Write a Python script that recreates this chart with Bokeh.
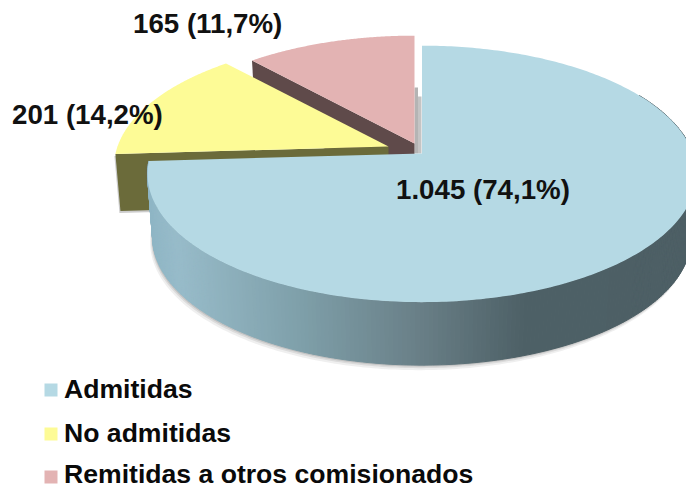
import numpy as np
from bokeh.plotting import figure
from bokeh.models import Range1d
from bokeh.core.properties import value
from bokeh.embed import file_html
from bokeh.resources import INLINE

categories = ["Admitidas", "No admitidas", "Remitidas a otros comisionados"]
counts = [1045, 201, 165]
labels = ["1.045 (74,1%)", "201 (14,2%)", "165 (11,7%)"]
top_colors = ["#b5d9e4", "#fdfb96", "#e3b3b3"]
wall_colors = ["#7d9aa5", "#6b6b3a", "#5f4a4a"]

# layout of the projected disc (page pixels)
RX, RY, K = 271, 125, 0.159
DEPTH_RX = 266
apex = [(421.5, 153), (388, 146), (414, 143)]
depth = [63, 57, 52]
TEXT_SHIFT = 10
label_pos = [(395.5, 199), (11.5, 124), (132.5, 33)]
legend_y = [389.5, 433.5, 476.5]
legend_base = [398, 442, 483]

frac = np.array(counts) / sum(counts)
edges = np.concatenate([[0], np.cumsum(frac)]) * 2 * np.pi


def proj(theta, cx, cy, rx=RX):
    x, y = np.sin(theta), np.cos(theta)
    w = 1 + K * y
    return cx + rx * x / w, cy - RY * y / w


p = figure(width=686, height=488, x_range=Range1d(0, 686), y_range=Range1d(488, 0),
           output_backend="svg", toolbar_location=None, min_border=0,
           background_fill_color="white", border_fill_color="white")
p.axis.visible = False
p.grid.visible = False
p.outline_line_color = None


def sector(i, n=120):
    t = np.linspace(edges[i], edges[i + 1], n)
    x, y = proj(t, *apex[i])
    return np.r_[apex[i][0], x], np.r_[apex[i][1], y]


def radial_wall(i, theta):
    cx, cy = apex[i]
    d = depth[i]
    x0, y0 = proj(theta, cx, cy)
    x1, y1 = proj(theta, cx, cy + d, DEPTH_RX)
    return [cx, x0, x1, cx], [cy, y0, y1, cy + d]


# grey back face seen through the gap between pink and blue
bx, by = apex[0]
p.quad(left=bx - 7.5, right=bx - 4, top=by - 66, bottom=by, fill_color="#b4b4b4", line_color=None)
p.quad(left=bx - 4, right=bx - 0.5, top=by - 57, bottom=by, fill_color="#c4c4c4", line_color=None)

# pink slice
xs, ys = radial_wall(2, edges[2])
p.patch(xs, ys, fill_color=wall_colors[2], line_color=None)
xs, ys = sector(2)
p.patch(xs, ys, fill_color=top_colors[2], line_color=None)

# yellow slice
xs, ys = radial_wall(1, edges[1])
p.patch(np.array(xs) - 1, np.array(ys) + 2, fill_color="#999999", fill_alpha=0.5, line_color=None)
xs, ys = radial_wall(1, edges[1])
p.patch(xs, ys, fill_color=wall_colors[1], line_color=None)
xs, ys = sector(1)
p.patch(xs, ys, fill_color=top_colors[1], line_color=None)

# blue slice: soft shadow, gradient rim, top
cx, cy = apex[0]
t = np.linspace(np.radians(60), edges[1], 260)
for off, alpha in [(5, 0.10), (3, 0.14), (1.5, 0.2)]:
    x1, y1 = proj(t, cx, cy + depth[0] + off, DEPTH_RX)
    x0, y0 = proj(t, cx, cy)
    p.patch(np.r_[x0 - off / 2, x1[::-1] - off / 2], np.r_[y0, y1[::-1]],
            fill_color="#666666", fill_alpha=alpha, line_color=None)

stops_x = [150, 180, 300, 420, 520, 690]
stops_rgb = np.array([[143, 182, 197], [152, 188, 202], [127, 160, 170],
                      [105, 127, 135], [78, 97, 103], [77, 95, 101]])
for a, b in zip(t[:-1], t[1:]):
    x0a, y0a = proj(a, cx, cy)
    x0b, y0b = proj(b, cx, cy)
    x1a, y1a = proj(a, cx, cy + depth[0], DEPTH_RX)
    x1b, y1b = proj(b, cx, cy + depth[0], DEPTH_RX)
    mid = (x1a + x1b) / 2
    col = [int(np.interp(mid, stops_x, stops_rgb[:, c])) for c in range(3)]
    hexcol = "#%02x%02x%02x" % tuple(col)
    p.patch([x0a, x0b, x1b, x1a], [y0a, y0b, y1b, y1a],
            fill_color=hexcol, line_color=hexcol, line_width=1)
xs, ys = sector(0, 300)
p.patch(xs, ys, fill_color=top_colors[0], line_color=None)

# value labels
for lab, (lx, ly) in zip(labels, label_pos):
    p.text([lx], [ly - TEXT_SHIFT], text=[lab], text_font=value("Liberation Sans"), text_font_style="bold",
           text_font_size="27.7px", text_color="#111111", text_align="left", text_baseline="alphabetic")

# legend
for cat, col, ym, yb in zip(categories, top_colors, legend_y, legend_base):
    p.scatter([50.5], [ym], marker="square", size=13, fill_color=col, line_color=None)
    p.text([63.5], [yb - TEXT_SHIFT], text=[cat], text_font=value("Liberation Sans"), text_font_style="bold",
           text_font_size="26.6px", text_color="#0a0a0a", text_align="left", text_baseline="alphabetic")

open("out.html", "w").write(file_html(p, INLINE))
